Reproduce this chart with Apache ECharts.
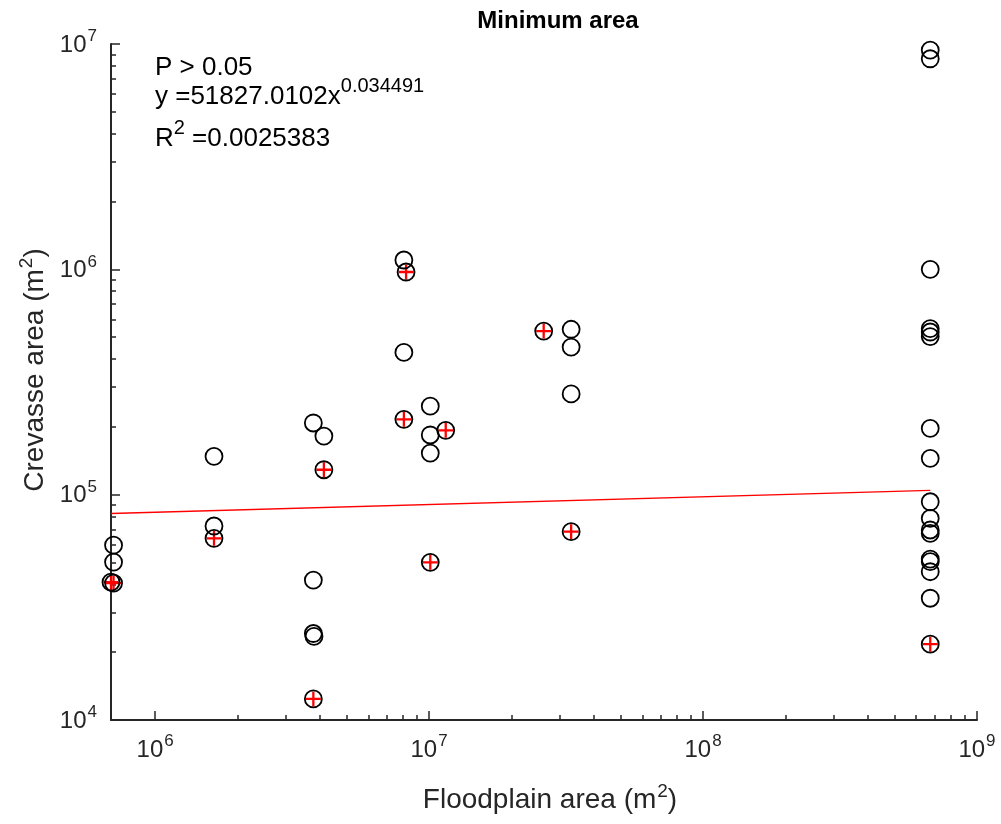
<!DOCTYPE html>
<html><head><meta charset="utf-8">
<script src="https://cdn.jsdelivr.net/npm/echarts@6/dist/echarts.min.js"></script>
<style>html,body{margin:0;padding:0;background:#fff}#c{width:1001px;height:824px}</style>
</head><body><div id="c"></div>
<script>
// ---- data ----
const floodplainArea = [
  7.05e5, 7.05e5, 6.9e5, 7.05e5,
  1.64e6, 1.64e6, 1.64e6,
  3.78e6, 4.13e6, 4.13e6, 3.78e6, 3.78e6, 3.80e6, 3.78e6,
  8.09e6, 8.24e6, 8.09e6, 8.09e6,
  1.01e7, 1.01e7, 1.01e7, 1.01e7, 1.15e7,
  2.62e7,
  3.30e7, 3.30e7, 3.30e7, 3.30e7,
  6.75e8, 6.75e8, 6.75e8, 6.75e8, 6.75e8, 6.75e8, 6.75e8, 6.75e8, 6.75e8,
  6.75e8, 6.75e8, 6.75e8, 6.75e8, 6.75e8, 6.75e8, 6.75e8, 6.75e8
];
const crevasseArea = [
  5.97e4, 5.02e4, 4.09e4, 4.05e4,
  1.48e5, 7.26e4, 6.40e4,
  2.08e5, 1.82e5, 1.29e5, 4.18e4, 2.42e4, 2.35e4, 1.24e4,
  1.10e6, 9.73e5, 4.28e5, 2.16e5,
  2.47e5, 1.84e5, 1.53e5, 5.01e4, 1.93e5,
  5.32e5,
  5.42e5, 4.52e5, 2.80e5, 6.85e4,
  9.40e6, 8.60e6, 1.00e6, 5.46e5, 5.27e5, 5.03e5, 1.97e5, 1.45e5, 9.30e4,
  7.85e4, 6.97e4, 6.73e4, 5.18e4, 5.04e4, 4.55e4, 3.47e4, 2.17e4
];
const crossedFloodplain = [6.9e5, 7.05e5, 1.64e6, 4.13e6, 3.78e6, 8.24e6, 8.09e6, 1.01e7, 1.15e7, 2.62e7, 3.30e7, 6.75e8];
const crossedCrevasse   = [4.09e4, 4.05e4, 6.40e4, 1.29e5, 1.24e4, 9.73e5, 2.16e5, 5.01e4, 1.93e5, 5.32e5, 6.85e4, 2.17e4];
const fitFloodplain = [6.9e5, 6.75e8];
const fitCrevasse   = [8.245e4, 1.045e5];
const xRange = [6.9e5, 1e9];
const yRange = [1e4, 1e7];
const xDecades = [6, 7, 8];      // minor tick decades
const yDecades = [4, 5, 6];
const titleText = 'Minimum area';
const xName = ['Floodplain area (m', '2', ')'];
const yName = ['Crevasse area (m', '2', ')'];
const statLines = ['P > 0.05', 'y =51827.0102x', '0.034491', 'R', '2', ' =0.0025383'];

// ---- build ----
const FONT = '"Liberation Sans", Arial, Helvetica, sans-serif';
const AX = '#262626';
function minorVals(decades, lo, hi) {
  const out = [];
  decades.forEach(d => { for (let k = 2; k <= 9; k++) { const v = k * Math.pow(10, d); if (v > lo && v < hi) out.push(Math.log10(v)); } });
  return out;
}
const supFmt = v => '{b|10}{s|' + Math.round(Math.log10(v)) + '}';
const tickRich = {
  b: { fontSize: 24, fontFamily: FONT, color: AX, lineHeight: 26, verticalAlign: 'bottom' },
  s: { fontSize: 17, fontFamily: FONT, color: AX, lineHeight: 17, verticalAlign: 'bottom', padding: [0, 0, 12, 1] }
};
const nameRich = {
  t: { fontSize: 28, fontFamily: FONT, color: AX, lineHeight: 32, verticalAlign: 'bottom' },
  s: { fontSize: 19, fontFamily: FONT, color: AX, lineHeight: 19, verticalAlign: 'bottom', padding: [0, 0, 13, 1] }
};
const statRich = {
  m: { fontSize: 26, fontFamily: FONT, fill: '#000', lineHeight: 30, verticalAlign: 'bottom' },
  s: { fontSize: 20, fontFamily: FONT, fill: '#000', lineHeight: 20, verticalAlign: 'bottom', padding: [0, 0, 14, 0] }
};
const grid = { left: 111, right: 24, top: 44, bottom: 104, containLabel: false };

const chart = echarts.init(document.getElementById('c'), null, { renderer: 'canvas' });
chart.setOption({
  animation: false,
  backgroundColor: '#ffffff',
  grid: grid,
  xAxis: [{
    type: 'log', logBase: 10, min: xRange[0], max: xRange[1], position: 'bottom',
    axisLine: { show: true, lineStyle: { color: AX, width: 2 } },
    axisTick: { show: true, inside: true, length: 9, lineStyle: { color: AX, width: 1.5 } },
    splitLine: { show: false }, minorTick: { show: false },
    axisLabel: { show: true, showMinLabel: false, margin: 16, formatter: supFmt, rich: tickRich },
    name: '{t|' + xName[0] + '}{s|' + xName[1] + '}{t|' + xName[2] + '}',
    nameLocation: 'middle', nameGap: 62, nameTextStyle: { rich: nameRich, padding: [0, 0, 0, 12] }
  }, {
    type: 'value', min: Math.log10(xRange[0]), max: Math.log10(xRange[1]), position: 'bottom', offset: 0,
    axisLine: { show: false }, splitLine: { show: false }, axisLabel: { show: false },
    axisTick: { show: true, inside: true, length: 5, customValues: minorVals(xDecades, xRange[0], xRange[1]), lineStyle: { color: AX, width: 1.5 } }
  }],
  yAxis: [{
    type: 'log', logBase: 10, min: yRange[0], max: yRange[1], position: 'left',
    axisLine: { show: true, lineStyle: { color: AX, width: 2 } },
    axisTick: { show: true, inside: true, length: 9, lineStyle: { color: AX, width: 1.5 } },
    splitLine: { show: false }, minorTick: { show: false },
    axisLabel: { show: true, margin: 14, formatter: supFmt, rich: tickRich },
    name: '{t|' + yName[0] + '}{s|' + yName[1] + '}{t|' + yName[2] + '}',
    nameLocation: 'middle', nameGap: 60, nameRotate: 90, nameTextStyle: { rich: nameRich, padding: [0, 0, 0, 24] }
  }, {
    type: 'value', min: Math.log10(yRange[0]), max: Math.log10(yRange[1]), position: 'left', offset: 0,
    axisLine: { show: false }, splitLine: { show: false }, axisLabel: { show: false },
    axisTick: { show: true, inside: true, length: 5, customValues: minorVals(yDecades, yRange[0], yRange[1]), lineStyle: { color: AX, width: 1.5 } }
  }],
  graphic: [
    { type: 'text', z: 100, style: { text: titleText, x: 558, y: 21, align: 'center', verticalAlign: 'middle', font: 'bold 24px ' + FONT, fill: '#000' } },
    { type: 'text', z: 100, style: { text: statLines[0], x: 155, y: 68, verticalAlign: 'middle', font: '26px ' + FONT, fill: '#000' } },
    { type: 'text', z: 100, style: { rich: statRich, text: '{m|' + statLines[1] + '}{s|' + statLines[2] + '}', x: 155, y: 95, verticalAlign: 'middle' } },
    { type: 'text', z: 100, style: { rich: statRich, text: '{m|' + statLines[3] + '}{s|' + statLines[4] + '}{m|' + statLines[5] + '}', x: 155, y: 137, verticalAlign: 'middle' } }
  ],
  series: [
    {
      type: 'line', xAxisIndex: 0, yAxisIndex: 0, symbol: 'none', silent: true, z: 2,
      data: fitFloodplain.map((x, i) => [x, fitCrevasse[i]]),
      lineStyle: { color: '#ff0000', width: 1.4 }
    },
    {
      type: 'scatter', xAxisIndex: 0, yAxisIndex: 0, clip: false, z: 3,
      symbol: 'path://M-1.15,-7.5 L1.15,-7.5 L1.15,-1.15 L7.5,-1.15 L7.5,1.15 L1.15,1.15 L1.15,7.5 L-1.15,7.5 L-1.15,1.15 L-7.5,1.15 L-7.5,-1.15 L-1.15,-1.15 Z',
      symbolSize: 15, symbolKeepAspect: true,
      itemStyle: { color: '#ff0000', opacity: 1 },
      data: crossedFloodplain.map((x, i) => [x, crossedCrevasse[i]])
    },
    {
      type: 'scatter', xAxisIndex: 0, yAxisIndex: 0, clip: false, z: 4,
      symbol: 'circle', symbolSize: 17,
      itemStyle: { color: 'rgba(0,0,0,0)', borderColor: '#000000', borderWidth: 1.8, opacity: 1 },
      data: floodplainArea.map((x, i) => [x, crevasseArea[i]])
    }
  ]
});
</script></body></html>
